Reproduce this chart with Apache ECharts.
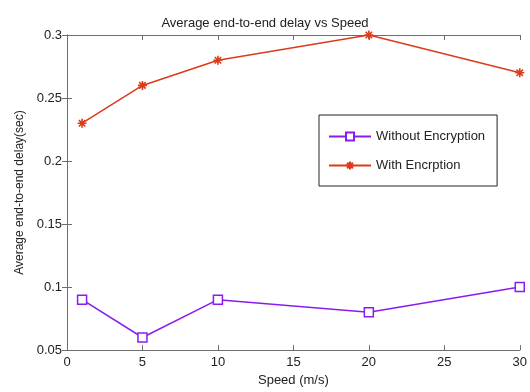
<!DOCTYPE html>
<html><head><meta charset="utf-8">
<script src="https://cdn.jsdelivr.net/npm/echarts@6/dist/echarts.min.js"></script>
<style>html,body{margin:0;padding:0;background:#fff}#c{width:530px;height:392px}</style>
</head><body><div id="c"></div>
<script>
const speeds = [1, 5, 10, 20, 30];
const withoutEnc = [0.09, 0.06, 0.09, 0.08, 0.10];
const withEnc = [0.23, 0.26, 0.28, 0.30, 0.27];
const xTicks = [0, 5, 10, 15, 20, 25, 30];
const yTicks = [0.05, 0.1, 0.15, 0.2, 0.25, 0.3];
const seriesNames = ['Without Encryption', 'With Encrption'];

const font = 'Liberation Sans, Arial, sans-serif';
const axisGray = '#6e6e6e';
const txt = '#222';
const purple = '#8a1cf0';
const red = '#dd3a1a';
const star = 'path://M0,-5L0,5M-5,0L5,0M-3.6,-3.6L3.6,3.6M-3.6,3.6L3.6,-3.6';

const chart = echarts.init(document.getElementById('c'), null, {renderer: 'canvas'});
const baseX = {
  type: 'value', min: xTicks[0], max: xTicks[xTicks.length - 1], interval: 5,
  splitLine: {show: false},
  axisLine: {show: true, lineStyle: {color: axisGray, width: 1}},
  axisTick: {show: true, inside: true, length: 5, lineStyle: {color: axisGray}}
};
const baseY = {
  type: 'value', min: yTicks[0], max: yTicks[yTicks.length - 1], interval: 0.05,
  splitLine: {show: false},
  axisLine: {show: true, lineStyle: {color: axisGray, width: 1}},
  axisTick: {show: true, inside: true, length: 5, lineStyle: {color: axisGray}}
};
chart.setOption({
  animation: false,
  backgroundColor: '#fff',
  title: {
    text: 'Average end-to-end delay vs Speed', left: 'center', top: 12,
    textStyle: {fontFamily: font, fontSize: 13, fontWeight: 'normal', color: txt}
  },
  grid: {left: 67, right: 8, top: 35, bottom: 34},
  legend: {
    orient: 'vertical', left: 319, top: 115,
    padding: [15, 12, 14, 9],
    itemWidth: 42, itemHeight: 10, itemGap: 16,
    borderColor: '#222', borderWidth: 1, backgroundColor: '#fff',
    textStyle: {fontFamily: font, fontSize: 13, color: txt},
    data: seriesNames
  },
  xAxis: [
    Object.assign({}, baseX, {
      position: 'bottom',
      name: 'Speed (m/s)', nameLocation: 'middle', nameGap: 23,
      nameTextStyle: {fontFamily: font, fontSize: 13, color: txt},
      axisLabel: {fontFamily: font, fontSize: 13, color: txt, margin: 6,
        formatter: v => String(v)}
    }),
    Object.assign({}, baseX, {position: 'top', axisLabel: {show: false}})
  ],
  yAxis: [
    Object.assign({}, baseY, {
      position: 'left',
      name: 'Average end-to-end delay(sec)', nameLocation: 'middle', nameGap: 35,
      nameTextStyle: {fontFamily: font, fontSize: 12, color: txt},
      axisLabel: {fontFamily: font, fontSize: 13, color: txt, margin: 5,
        formatter: v => String(+v.toFixed(2))}
    }),
    Object.assign({}, baseY, {position: 'right', axisLabel: {show: false}})
  ],
  series: [
    {
      name: seriesNames[0], type: 'line',
      data: speeds.map((s, i) => [s, withoutEnc[i]]),
      symbol: 'rect', symbolSize: 9, showAllSymbol: true,
      lineStyle: {color: purple, width: 1.5},
      itemStyle: {color: '#fff', borderColor: purple, borderWidth: 1.5}
    },
    {
      name: seriesNames[1], type: 'line',
      data: speeds.map((s, i) => [s, withEnc[i]]),
      symbol: star, symbolSize: 9, showAllSymbol: true,
      lineStyle: {color: red, width: 1.5},
      itemStyle: {color: red, borderColor: red, borderWidth: 1.6}
    }
  ]
});
</script></body></html>
